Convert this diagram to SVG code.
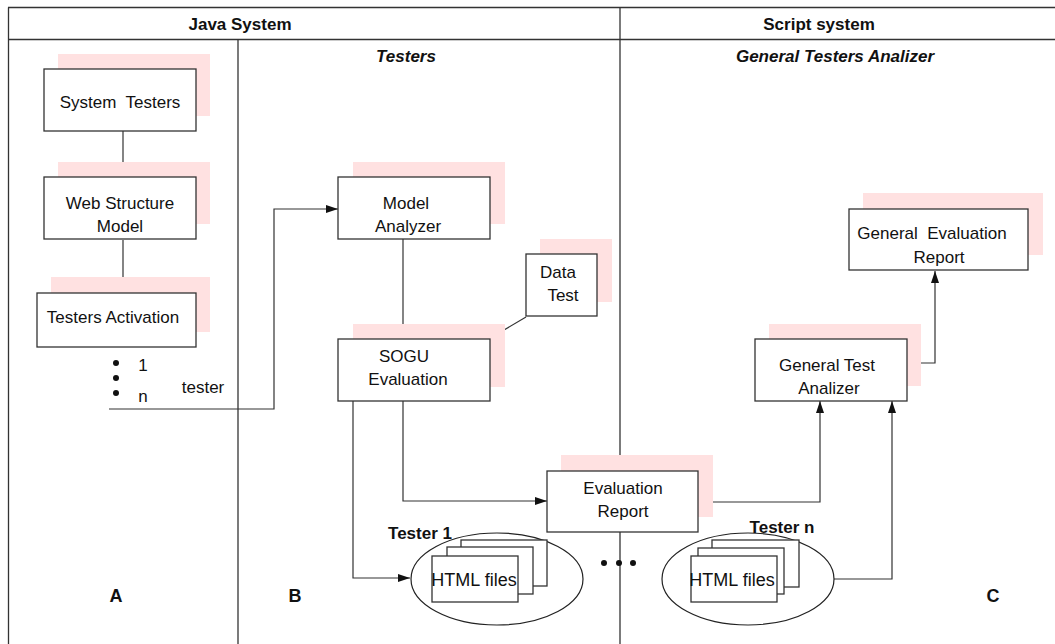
<svg xmlns="http://www.w3.org/2000/svg" width="1055" height="644" viewBox="0 0 1055 644">
<style>
.frame{stroke:#333;stroke-width:1.3;fill:none}
.sh{fill:#ffe1e1}
.box{fill:#fff;stroke:#333;stroke-width:1.3}
.ln{fill:none;stroke:#333;stroke-width:1.2}
.t{font-family:"Liberation Sans",Arial,sans-serif;font-size:17px;fill:#111;text-anchor:middle;white-space:pre}
.h{font-family:"Liberation Sans",Arial,sans-serif;font-size:17px;font-weight:bold;fill:#111;text-anchor:middle}
.hi{font-family:"Liberation Sans",Arial,sans-serif;font-size:17px;font-weight:bold;font-style:italic;fill:#111;text-anchor:middle}
.lab{font-family:"Liberation Sans",Arial,sans-serif;font-size:18px;font-weight:bold;fill:#111;text-anchor:middle}
.ell{fill:#fff;stroke:#222;stroke-width:1.2}
</style>
<defs>
<marker id="arr" markerWidth="12" markerHeight="8" refX="12" refY="4" orient="auto" markerUnits="userSpaceOnUse">
<path d="M0,0 L12,4 L0,8 Z" fill="#111"/>
</marker>
</defs>
<rect width="1055" height="644" fill="#fff"/>
<g id="frame">
<line class="frame" x1="8" y1="7.5" x2="1055" y2="7.5"/>
<line class="frame" x1="8" y1="39.5" x2="1055" y2="39.5"/>
<line class="frame" x1="8.5" y1="7.5" x2="8.5" y2="644"/>
<line class="frame" x1="620" y1="7.5" x2="620" y2="644"/>
<line class="frame" x1="238" y1="39.5" x2="238" y2="644"/>
<text class="h" x="240" y="30">Java System</text>
<text class="h" x="819" y="30">Script system</text>
<text class="hi" x="406" y="62">Testers</text>
<text class="hi" x="835" y="62">General Testers Analizer</text>
<text class="lab" x="116" y="602">A</text>
<text class="lab" x="295" y="602">B</text>
<text class="lab" x="993" y="602">C</text>
</g>
<g id="connectors">
<line class="ln" x1="123" y1="131" x2="123" y2="177"/>
<line class="ln" x1="123" y1="240" x2="123" y2="293"/>
<polyline class="ln" points="109,409 274,409 274,209 338,209" marker-end="url(#arr)"/>
<line class="ln" x1="403" y1="239" x2="403" y2="324"/>
<line class="ln" x1="526" y1="317" x2="504" y2="330"/>
<polyline class="ln" points="353,401 353,578 410,578" marker-end="url(#arr)"/>
<polyline class="ln" points="403,401 403,501 547,501" marker-end="url(#arr)"/>
<polyline class="ln" points="713,502 820,502 820,401" marker-end="url(#arr)"/>
<polyline class="ln" points="834,579 892,579 892,401" marker-end="url(#arr)"/>
<polyline class="ln" points="921,363 935,363 935,271" marker-end="url(#arr)"/>
</g>
<g id="system-testers">
<rect class="sh" x="58" y="54" width="152" height="62"/>
<rect class="box" x="44" y="69" width="152" height="62"/>
<text class="t" x="120" y="108" xml:space="preserve">System  Testers</text>
</g>
<g id="web-structure-model">
<rect class="sh" x="58" y="162" width="152" height="62"/>
<rect class="box" x="44" y="177" width="152" height="62"/>
<text class="t" x="120" y="209">Web Structure</text>
<text class="t" x="120" y="232">Model</text>
</g>
<g id="testers-activation">
<rect class="sh" x="51" y="277" width="159" height="55"/>
<rect class="box" x="37" y="293" width="159" height="54"/>
<text class="t" x="113" y="323">Testers Activation</text>
</g>
<g id="tester-list">
<circle cx="116" cy="363" r="3" fill="#111"/>
<circle cx="116" cy="378" r="3" fill="#111"/>
<circle cx="116" cy="393" r="3" fill="#111"/>
<text class="t" x="143" y="371">1</text>
<text class="t" x="143" y="402">n</text>
<text class="t" x="203" y="393">tester</text>
</g>
<g id="model-analyzer">
<rect class="sh" x="353" y="162" width="152" height="62"/>
<rect class="box" x="338" y="177" width="152" height="62"/>
<text class="t" x="406" y="209">Model</text>
<text class="t" x="408" y="232">Analyzer</text>
</g>
<g id="data-test">
<rect class="sh" x="540" y="239" width="72" height="63"/>
<rect class="box" x="526" y="254" width="71" height="62"/>
<text class="t" x="558" y="278">Data</text>
<text class="t" x="563" y="301">Test</text>
</g>
<g id="sogu-evaluation">
<rect class="sh" x="353" y="324" width="152" height="63"/>
<rect class="box" x="338" y="339" width="152" height="62"/>
<text class="t" x="404" y="362">SOGU</text>
<text class="t" x="408" y="385">Evaluation</text>
</g>
<g id="evaluation-report">
<rect class="sh" x="561" y="455" width="152" height="62"/>
<rect class="box" x="547" y="471" width="151" height="61"/>
<text class="t" x="623" y="494">Evaluation</text>
<text class="t" x="623" y="517">Report</text>
</g>
<g id="tester-1">
<ellipse class="ell" cx="497" cy="579" rx="86" ry="46"/>
<rect class="box" x="461" y="540" width="86" height="46"/>
<rect class="box" x="447" y="547" width="86" height="47"/>
<rect class="box" x="432" y="556" width="86" height="46"/>
<text class="t" x="474" y="586" style="font-size:18px">HTML files</text>
<text class="lab" x="420" y="539" style="font-size:17px">Tester 1</text>
</g>
<g id="ellipsis">
<circle cx="604" cy="563" r="3" fill="#111"/>
<circle cx="619" cy="563" r="3" fill="#111"/>
<circle cx="633" cy="563" r="3" fill="#111"/>
</g>
<g id="tester-n">
<ellipse class="ell" cx="748" cy="579" rx="86" ry="46"/>
<rect class="box" x="712" y="540" width="87" height="47"/>
<rect class="box" x="698" y="548" width="86" height="46"/>
<rect class="box" x="691" y="556" width="86" height="46"/>
<text class="t" x="732" y="586" style="font-size:18px">HTML files</text>
<text class="lab" x="782" y="533" style="font-size:17px">Tester n</text>
</g>
<g id="general-test-analizer">
<rect class="sh" x="769" y="324" width="152" height="62"/>
<rect class="box" x="755" y="339" width="152" height="62"/>
<text class="t" x="827" y="371">General Test</text>
<text class="t" x="829" y="394">Analizer</text>
</g>
<g id="general-evaluation-report">
<rect class="sh" x="863" y="193" width="180" height="62"/>
<rect class="box" x="849" y="209" width="179" height="61"/>
<text class="t" x="932" y="239" xml:space="preserve">General  Evaluation</text>
<text class="t" x="939" y="263">Report</text>
</g>
</svg>
